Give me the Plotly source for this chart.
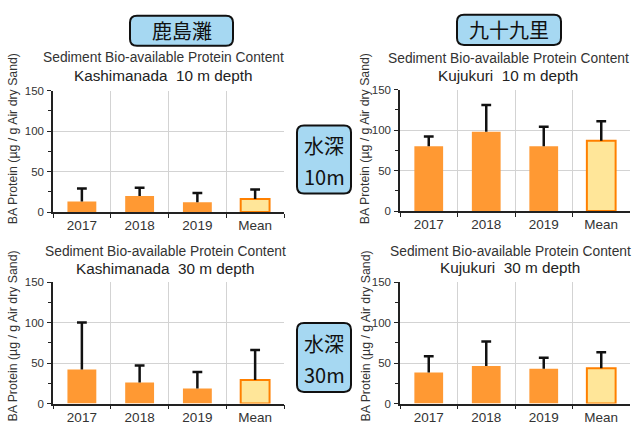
import plotly.graph_objects as go

# ---- data ----
categories = ["2017", "2018", "2019", "Mean"]

kashima_10m = [13, 20, 12, 16]
kashima_10m_sd = [16, 10, 11.5, 12]

kujukuri_10m = [80, 98, 80, 87]
kujukuri_10m_sd = [12, 33, 24, 24]

kashima_30m = [42, 26, 18.5, 29]
kashima_30m_sd = [58, 21, 20.5, 37]

kujukuri_30m = [38.5, 46.5, 43, 43.5]
kujukuri_30m_sd = [20, 30, 13.5, 20]

panel_titles = [
    "Kashimanada  10 m depth",
    "Kujukuri  10 m depth",
    "Kashimanada  30 m depth",
    "Kujukuri  30 m depth",
]
main_title = "Sediment Bio-available Protein Content"
y_title = "BA Protein (µg / g Air dry Sand)"

# ---- page geometry (pixels) ----
W, H = 633, 430


def px(x):
    return x / W


def py(y):
    return 1 - y / H


FONT = "Liberation Sans, Arial, sans-serif"
CJK = "Noto Sans CJK JP, sans-serif"
BAR = "#FF9933"
MEAN_FILL = "#FFE699"
MEAN_LINE = "#FF8000"
ERR = "#111111"

# plot areas: (x0, x1, ytop, ybottom) in pixels
areas = [
    (53, 284, 87, 212),
    (400, 630, 86, 211),
    (53, 284, 284, 409),
    (400, 630, 284, 409),
]
series = [
    (kashima_10m, kashima_10m_sd),
    (kujukuri_10m, kujukuri_10m_sd),
    (kashima_30m, kashima_30m_sd),
    (kujukuri_30m, kujukuri_30m_sd),
]
title_y = [(53, 71), (54, 71), (253, 270), (253, 269)]
title_x = [164, 508, 165, 510]
ylab_pos = [(13, 137), (365, 137), (13, 340), (366, 340)]

fig = go.Figure()
annotations = []
layout = {}

for i, ((vals, sd), (x0, x1, yt, yb)) in enumerate(zip(series, areas)):
    n = i + 1
    xa = "x" if n == 1 else f"x{n}"
    ya = "y" if n == 1 else f"y{n}"
    fills = [BAR] * 3 + [MEAN_FILL]
    lines = [BAR] * 3 + [MEAN_LINE]
    lwidths = [0, 0, 0, 2]
    # bars with one-sided (upper) error whiskers
    fig.add_trace(go.Bar(
        x=categories, y=vals, xaxis=xa, yaxis=ya, width=0.5,
        marker=dict(color=fills, line=dict(color=lines, width=lwidths)),
        error_y=dict(type="data", symmetric=False, array=sd,
                     arrayminus=[0] * len(sd), color=ERR,
                     thickness=2.5, width=0),
        showlegend=False, hoverinfo="skip",
    ))
    # whisker caps at mean + SD
    tops = [v + s for v, s in zip(vals, sd)]
    fig.add_trace(go.Scatter(
        x=categories, y=tops, xaxis=xa, yaxis=ya, mode="markers",
        marker=dict(symbol="line-ew", size=7, color=ERR,
                    line=dict(color=ERR, width=2.5)),
        showlegend=False, hoverinfo="skip",
    ))
    axis_common = dict(
        showline=True, linecolor="#222222", linewidth=1.5,
        ticks="outside", ticklen=4, tickcolor="#222222",
        gridcolor="#D3D3D3", gridwidth=1,
    )
    layout["xaxis" if n == 1 else f"xaxis{n}"] = dict(
        domain=[px(x0), px(x1)], anchor=ya, type="category",
        tickson="boundaries", showgrid=True,
        tickfont=dict(family=FONT, size=13.5, color="#333333"),
        range=[-0.5, 3.5], fixedrange=True, **axis_common,
    )
    layout["yaxis" if n == 1 else f"yaxis{n}"] = dict(
        domain=[py(yb), py(yt)], anchor=xa, range=[0, 150],
        tickvals=[0, 50, 100, 150], showgrid=True, zeroline=False,
        minor=dict(dtick=25, ticks="outside", ticklen=3,
                   tickcolor="#222222", showgrid=False),
        tickfont=dict(family=FONT, size=11.5, color="#333333"),
        ticklabelstandoff=1, **axis_common,
    )
    # chart titles
    annotations.append(dict(
        x=px(title_x[i]), y=py(title_y[i][0]), xref="paper", yref="paper",
        text=main_title, showarrow=False, xanchor="center", yanchor="middle",
        font=dict(family=FONT, size=13.8, color="#333333"),
    ))
    annotations.append(dict(
        x=px(title_x[i]), y=py(title_y[i][1]), xref="paper", yref="paper",
        text=panel_titles[i], showarrow=False, xanchor="center", yanchor="middle",
        font=dict(family=FONT, size=15.3, color="#222222"),
    ))
    annotations.append(dict(
        x=px(ylab_pos[i][0]), y=py(ylab_pos[i][1]), xref="paper", yref="paper",
        text=y_title, showarrow=False, textangle=-90,
        xanchor="center", yanchor="middle",
        font=dict(family=FONT, size=12.3, color="#333333"),
    ))


def rounded_box(x0, y0, x1, y1, r=7):
    def p(x, y):
        return f"{px(x):.5f},{py(y):.5f}"
    return (f"M {p(x0 + r, y0)} L {p(x1 - r, y0)} Q {p(x1, y0)} {p(x1, y0 + r)} "
            f"L {p(x1, y1 - r)} Q {p(x1, y1)} {p(x1 - r, y1)} "
            f"L {p(x0 + r, y1)} Q {p(x0, y1)} {p(x0, y1 - r)} "
            f"L {p(x0, y0 + r)} Q {p(x0, y0)} {p(x0 + r, y0)} Z")


BOX_FILL = "#A6D8F2"
shapes = []
# region headers and depth labels
boxes = [
    ((130, 10, 233, 41), [("鹿島灘", 182, 25.5)]),
    ((457, 9, 561, 40), [("九十九里", 509, 24.5)]),
    ((297, 123, 351, 193), [("水深", 324, 143), ("10m", 324, 175)]),
    ((297, 326, 351, 397), [("水深", 324, 347), ("30m", 324, 379)]),
]
for (bx0, by0, bx1, by1), texts in boxes:
    shapes.append(dict(type="path", path=rounded_box(bx0, by0, bx1, by1),
                       xref="paper", yref="paper", fillcolor=BOX_FILL,
                       line=dict(color="#111111", width=2), layer="below"))
    for t, tx, ty in texts:
        annotations.append(dict(
            x=px(tx), y=py(ty), xref="paper", yref="paper", text=t,
            showarrow=False, xanchor="center", yanchor="middle",
            font=dict(family=CJK, size=20, color="#111111"),
        ))

fig.update_layout(
    width=W, height=H, margin=dict(l=0, r=0, t=0, b=0),
    paper_bgcolor="white", plot_bgcolor="white",
    annotations=annotations, shapes=shapes, **layout,
)

fig.write_html("out.html")
